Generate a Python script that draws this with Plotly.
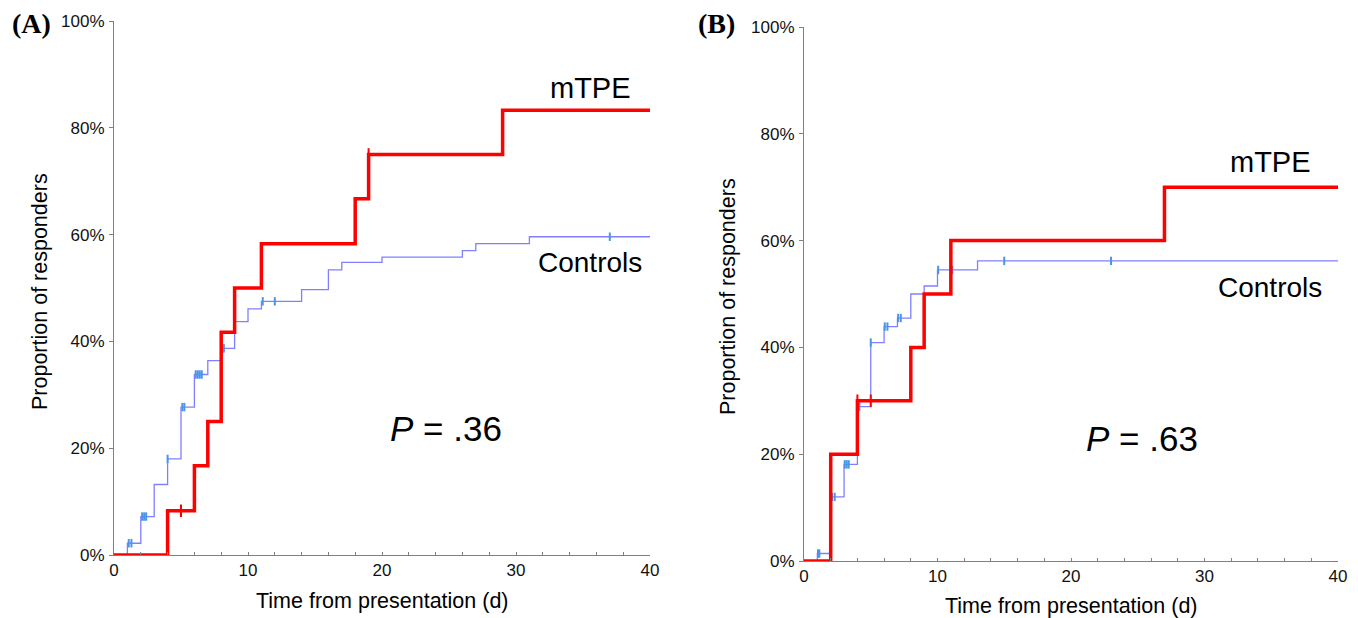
import plotly.graph_objects as go

# ---------------- Data ----------------
# Panel A
a_mtpe_t = [0, 4, 6, 7, 8, 9, 11, 18, 19, 29, 40]
a_mtpe_p = [0, 8.3, 16.7, 25.0, 41.7, 50.0, 58.3, 66.7, 75.0, 83.3, 83.3]
a_mtpe_cens_t = [5, 19]
a_mtpe_cens_p = [8.3, 75.0]

a_ctrl_t = [0, 1, 2, 3, 4, 5, 6, 7, 8, 9, 10, 11, 14, 16, 17, 20, 26, 27, 31, 40]
a_ctrl_p = [0, 2.2, 7.2, 13.2, 18.0, 27.7, 33.8, 36.4, 38.7, 43.7, 46.1, 47.5, 49.7,
            53.4, 54.8, 55.8, 57.0, 58.3, 59.6, 59.6]
a_ctrl_cens_t = [1.1, 1.3, 2.1, 2.25, 2.4, 4.0, 5.1, 5.25, 6.1, 6.25, 6.4, 6.55, 8.2, 9.0, 11.1, 12.0, 37.0]
a_ctrl_cens_p = [2.2, 2.2, 7.2, 7.2, 7.2, 18.0, 27.7, 27.7, 33.8, 33.8, 33.8, 33.8, 38.7, 43.7, 47.5, 47.5, 59.6]

# Panel B
b_mtpe_t = [0, 2, 4, 8, 9, 11, 27, 40]
b_mtpe_p = [0, 20.0, 30.0, 40.0, 50.0, 60.0, 70.0, 70.0]
b_mtpe_cens_t = [4, 5]
b_mtpe_cens_p = [30.0, 30.0]

b_ctrl_t = [0, 1, 2, 3, 4, 5, 6, 7, 8, 9, 10, 13, 40]
b_ctrl_p = [0, 1.4, 12.0, 18.1, 28.9, 40.9, 43.9, 45.5, 50.0, 51.5, 54.5, 56.2, 56.2]
b_ctrl_cens_t = [1.05, 1.15, 2.1, 2.3, 3.05, 3.2, 3.35, 4.15, 5.0, 6.05, 6.25, 7.05, 7.25, 10.05, 11.1, 15.0, 23.0]
b_ctrl_cens_p = [1.4, 1.4, 12.0, 12.0, 18.1, 18.1, 18.1, 28.9, 40.9, 43.9, 43.9, 45.5, 45.5, 54.5, 54.5, 56.2, 56.2]

x_ticks = [0, 10, 20, 30, 40]
y_ticks = [0, 20, 40, 60, 80, 100]
y_tick_labels = ["0%", "20%", "40%", "60%", "80%", "100%"]

RED = "#ff0000"
BLUE = "#8080ff"
CENS_BLUE = "#4a95e6"
FONT = "Liberation Sans, Arial, sans-serif"
W, H = 1358, 618

fig = go.Figure()

def add_panel(xa, ya, mt, mp, mct, mcp, ct, cp, cct, ccp):
    xr = "x" if xa == 1 else f"x{xa}"
    yr = "y" if ya == 1 else f"y{ya}"
    fig.add_trace(go.Scatter(x=ct, y=[v / 100 for v in cp], mode="lines",
                             line=dict(color=BLUE, width=1.3, shape="hv"),
                             xaxis=xr, yaxis=yr, showlegend=False, hoverinfo="skip"))
    fig.add_trace(go.Scatter(x=cct, y=[v / 100 for v in ccp], mode="markers",
                             marker=dict(symbol="line-ns", size=6,
                                         line=dict(color=CENS_BLUE, width=2)),
                             xaxis=xr, yaxis=yr, showlegend=False, hoverinfo="skip",
                             cliponaxis=False))
    fig.add_trace(go.Scatter(x=mt, y=[v / 100 for v in mp], mode="lines",
                             line=dict(color=RED, width=3.5, shape="hv"),
                             xaxis=xr, yaxis=yr, showlegend=False, hoverinfo="skip"))
    fig.add_trace(go.Scatter(x=mct, y=[v / 100 for v in mcp], mode="markers",
                             marker=dict(symbol="line-ns", size=9,
                                         line=dict(color=RED, width=2)),
                             xaxis=xr, yaxis=yr, showlegend=False, hoverinfo="skip",
                             cliponaxis=False))

add_panel(1, 1, a_mtpe_t, a_mtpe_p, a_mtpe_cens_t, a_mtpe_cens_p,
          a_ctrl_t, a_ctrl_p, a_ctrl_cens_t, a_ctrl_cens_p)
add_panel(2, 2, b_mtpe_t, b_mtpe_p, b_mtpe_cens_t, b_mtpe_cens_p,
          b_ctrl_t, b_ctrl_p, b_ctrl_cens_t, b_ctrl_cens_p)

def xaxis_cfg(domain, anchor):
    return dict(domain=domain, anchor=anchor, range=[0, 40], tickvals=x_ticks,
                ticks="inside", ticklen=3, tickcolor="#808080", tickwidth=1,
                minor=dict(dtick=2, ticks="inside", ticklen=3, tickcolor="#808080", tickwidth=1),
                showline=True, linecolor="#808080", linewidth=1, showgrid=False,
                zeroline=False, tickfont=dict(family=FONT, size=17, color="#111"),
                fixedrange=True, automargin=False)

def yaxis_cfg(domain, anchor):
    return dict(domain=domain, anchor=anchor, range=[0, 1], tickvals=[v / 100 for v in y_ticks],
                ticktext=y_tick_labels, ticks="outside", ticklen=4, tickcolor="#808080",
                showline=True, linecolor="#808080", linewidth=1, showgrid=False,
                zeroline=False, tickfont=dict(family=FONT, size=17, color="#111"),
                ticklabelstandoff=1,
                fixedrange=True, automargin=False)

fig.update_layout(
    width=W, height=H,
    margin=dict(l=0, r=0, t=0, b=0, autoexpand=False),
    paper_bgcolor="white", plot_bgcolor="white",
    xaxis=xaxis_cfg([114 / W, 650 / W], "y"),
    yaxis=yaxis_cfg([1 - 555 / H, 1 - 21 / H], "x"),
    xaxis2=xaxis_cfg([804 / W, 1338 / W], "y2"),
    yaxis2=yaxis_cfg([1 - 561 / H, 1 - 27 / H], "x2"),
)

def ann(x, y, text, size, family=FONT, **kw):
    fig.add_annotation(x=x / W, y=1 - y / H, xref="paper", yref="paper", text=text,
                       showarrow=False, font=dict(family=family, size=size, color="#000"),
                       xanchor=kw.get("xanchor", "center"), yanchor="middle",
                       textangle=kw.get("textangle", 0))

# Panel labels
ann(31, 24, "<b>(A)</b>", 28, family="Liberation Serif, Times New Roman, serif")
ann(716, 24, "<b>(B)</b>", 28, family="Liberation Serif, Times New Roman, serif")

# Curve labels
ann(590, 88, "mTPE", 29)
ann(590, 262, "Controls", 28)
ann(1270, 162, "mTPE", 29)
ann(1270, 287, "Controls", 28)

# P values
ann(446, 428, "<i>P</i> = .36", 35)
ann(1142, 438, "<i>P</i> = .63", 35)

# Axis titles
ann(382, 601, "Time from presentation (d)", 21.5)
ann(1071, 606, "Time from presentation (d)", 21.5)
ann(40, 292, "Proportion of responders", 21.5, textangle=-90)
ann(728, 297, "Proportion of responders", 21.5, textangle=-90)

fig.write_html("out.html", config={"displayModeBar": False},
               post_script="document.body.style.margin='0';document.body.style.overflow='hidden';")
